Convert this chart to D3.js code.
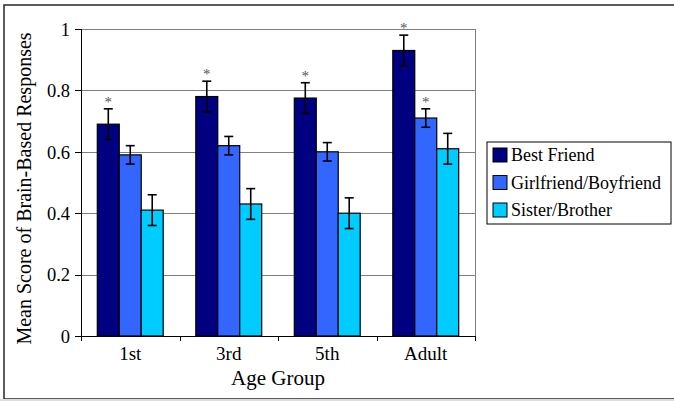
<!DOCTYPE html>
<html lang="en">
<head>
<meta charset="UTF-8">
<title>Brain-Based Responses</title>
<style>
body { margin: 0; background: #fff; }
.grid line { stroke: #808080; stroke-width: 1; shape-rendering: crispEdges; }
.axis path, .axis line { stroke: #000; shape-rendering: crispEdges; }
</style>
</head>
<body>
<script src="https://cdn.jsdelivr.net/npm/d3@7"></script>
<script>
let groups = ['1st', '3rd', '5th', 'Adult'];
let series = ['Best Friend', 'Girlfriend/Boyfriend', 'Sister/Brother'];
let colors = ['#000080', '#3366ff', '#00ccff'];
let bestFriend = [0.69, 0.78, 0.775, 0.93];
let girlBoy = [0.59, 0.62, 0.60, 0.71];
let sisterBrother = [0.41, 0.43, 0.40, 0.61];
let errBest = [0.05, 0.05, 0.05, 0.05];
let errGirlBoy = [0.03, 0.03, 0.03, 0.03];
let errSister = [0.05, 0.05, 0.05, 0.05];
// which bars get an asterisk
let starBest = [true, true, true, true];
let starGirlBoy = [false, false, false, true];
let starSister = [false, false, false, false];
let yTicks = [0, 0.2, 0.4, 0.6, 0.8, 1];

const FONT = '"Liberation Serif", "Times New Roman", serif';
let width = 674, height = 401;
let m = {left: 81, top: 29, right: 475, bottom: 336};

let svg = d3.select('body').append('svg')
    .attr('width', width)
    .attr('height', height)
    .attr('font-family', FONT);

// outer frame
svg.append('rect')
    .attr('x', 4).attr('y', 5)
    .attr('width', 680).attr('height', 394)
    .attr('fill', 'none').attr('stroke', '#333').attr('stroke-width', 1.6);
svg.append('line')
    .attr('x1', 0).attr('x2', width).attr('y1', 400).attr('y2', 400)
    .attr('stroke', '#ddd').attr('stroke-width', 2);

let x = d3.scaleBand().domain(groups).range([m.left, m.right]);
let xs = d3.scaleBand().domain(series).range([16.3, x.bandwidth() - 16.3]);
let y = d3.scaleLinear().domain([0, 1]).range([m.bottom, m.top]);

// gridlines
svg.append('g').attr('class', 'grid')
    .selectAll('line')
    .data(yTicks.slice(1))
    .enter().append('line')
    .attr('x1', m.left).attr('x2', m.right)
    .attr('y1', d => Math.round(y(d)) + 0.5).attr('y2', d => Math.round(y(d)) + 0.5);
svg.append('line')
    .attr('x1', m.right + 0.5).attr('x2', m.right + 0.5)
    .attr('y1', m.top).attr('y2', m.bottom)
    .attr('stroke', '#808080');

let table = series.map((s, i) => ({
    name: s,
    color: colors[i],
    values: [bestFriend, girlBoy, sisterBrother][i],
    errs: [errBest, errGirlBoy, errSister][i],
    stars: [starBest, starGirlBoy, starSister][i]
}));

let rows = [];
table.forEach(t => groups.forEach((g, j) => rows.push({
    group: g, series: t.name, color: t.color, v: t.values[j], e: t.errs[j], star: t.stars[j]
})));

svg.append('g').selectAll('rect')
    .data(rows)
    .enter().append('rect')
    .attr('x', d => x(d.group) + xs(d.series))
    .attr('y', d => y(d.v))
    .attr('width', xs.bandwidth())
    .attr('height', d => y(0) - y(d.v))
    .attr('fill', d => d.color)
    .attr('stroke', '#000')
    .attr('stroke-width', 1.2);

// error bars
let eb = svg.append('g').attr('stroke', '#000').attr('stroke-width', 1.6);
rows.forEach(d => {
    let cx = x(d.group) + xs(d.series) + xs.bandwidth() / 2;
    eb.append('line').attr('x1', cx).attr('x2', cx).attr('y1', y(d.v + d.e)).attr('y2', y(d.v - d.e));
    eb.append('line').attr('x1', cx - 4.5).attr('x2', cx + 4.5).attr('y1', y(d.v + d.e)).attr('y2', y(d.v + d.e));
    eb.append('line').attr('x1', cx - 4.5).attr('x2', cx + 4.5).attr('y1', y(d.v - d.e)).attr('y2', y(d.v - d.e));
});

svg.append('g').selectAll('text')
    .data(rows.filter(d => d.star))
    .enter().append('text')
    .attr('x', d => x(d.group) + xs(d.series) + xs.bandwidth() / 2)
    .attr('y', d => y(d.v + d.e) - 2)
    .attr('text-anchor', 'middle')
    .style('font-family', '"Liberation Serif", serif')
    .style('font-size', '15px')
    .style('fill', '#555')
    .text('*');

// axes
svg.append('g').attr('class', 'axis')
    .attr('transform', `translate(${m.left},0)`)
    .call(d3.axisLeft(y).tickValues(yTicks).tickFormat(d => d).tickSize(6).tickPadding(5))
    .call(g => g.select('.domain').attr('d', `M0.5,${m.top}V${m.bottom}`))
    .call(g => g.selectAll('text').style('font-family', FONT).style('font-size', '18.5px').attr('dy', '0.34em'));

let xAxis = svg.append('g').attr('class', 'axis')
    .attr('transform', `translate(0,${m.bottom})`)
    .call(d3.axisBottom(x).tickSize(0).tickPadding(11))
    .call(g => g.select('.domain').attr('d', `M${m.left},0.5H${m.right}`))
    .call(g => g.selectAll('text').style('font-family', FONT).style('font-size', '19px'));
xAxis.selectAll('.btick')
    .data(d3.range(groups.length + 1))
    .enter().append('line')
    .attr('class', 'btick')
    .attr('x1', i => Math.round(m.left + i * x.step()) + 0.5)
    .attr('x2', i => Math.round(m.left + i * x.step()) + 0.5)
    .attr('y1', 0).attr('y2', 5);

svg.append('text')
    .attr('x', (m.left + m.right) / 2).attr('y', 385)
    .attr('text-anchor', 'middle')
    .style('font-size', '21px')
    .text('Age Group');

svg.append('text')
    .attr('transform', `translate(31,${(m.top + m.bottom) / 2 + 6}) rotate(-90)`)
    .attr('text-anchor', 'middle')
    .style('font-size', '20px')
    .text('Mean Score of Brain-Based Responses');

// legend
let lg = svg.append('g').attr('transform', 'translate(487,142)');
lg.append('rect')
    .attr('width', 184).attr('height', 82)
    .attr('fill', '#fff').attr('stroke', '#000').attr('stroke-width', 1);
let items = lg.selectAll('.item')
    .data(table)
    .enter().append('g')
    .attr('class', 'item')
    .attr('transform', (d, i) => `translate(6,${13 + i * 27.5})`);
items.append('rect')
    .attr('width', 14).attr('height', 14).attr('y', -7)
    .attr('fill', d => d.color).attr('stroke', '#000');
items.append('text')
    .attr('x', 18).attr('y', 6)
    .style('font-size', '18px')
    .text(d => d.name);
</script>
</body>
</html>
